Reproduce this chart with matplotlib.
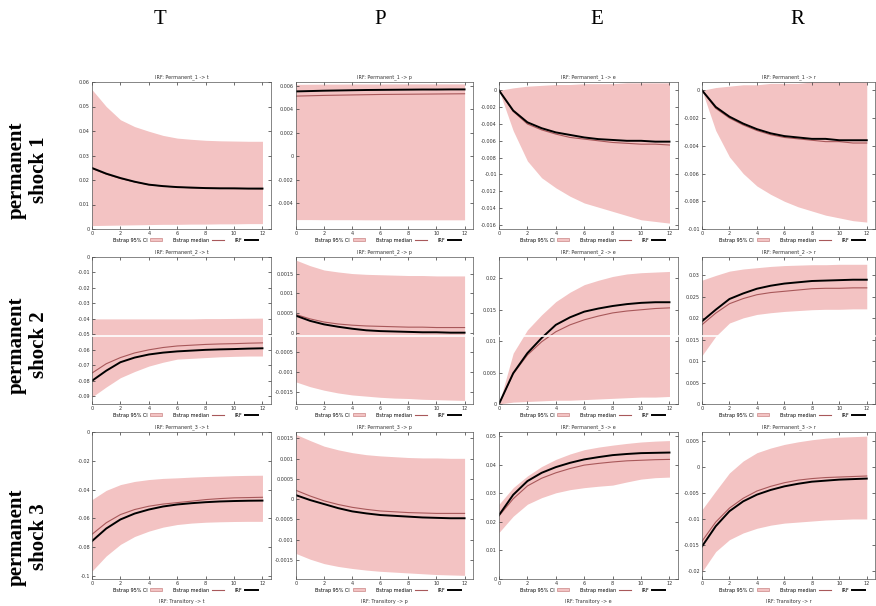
import numpy as np
import matplotlib
matplotlib.use("Agg")
import matplotlib.pyplot as plt
from matplotlib.lines import Line2D
from matplotlib.patches import Patch
from matplotlib.ticker import FuncFormatter

horizons = list(range(13))
columns = ["T", "P", "E", "R"]
variables = ["t", "p", "e", "r"]
shocks = ["Permanent_1", "Permanent_2", "Permanent_3"]
row_labels = ["permanent\nshock 1", "permanent\nshock 2", "permanent\nshock 3"]

# ---- shock 1 ----
s1_t_irf = [0.0249, 0.0226, 0.0208, 0.0193, 0.0181, 0.0175, 0.0171, 0.0169, 0.0167, 0.0166, 0.0166, 0.0165, 0.0165]
s1_t_med = [0.0247, 0.0224, 0.0206, 0.0192, 0.0181, 0.0175, 0.0171, 0.0168, 0.0167, 0.0166, 0.0165, 0.0165, 0.0164]
s1_t_up = [0.0569, 0.0500, 0.0446, 0.0418, 0.0399, 0.0382, 0.0371, 0.0366, 0.0362, 0.0360, 0.0359, 0.0358, 0.0358]
s1_t_lo = [0.0014, 0.0015, 0.0016, 0.0017, 0.0018, 0.0019, 0.0019, 0.0020, 0.0020, 0.0021, 0.0021, 0.0022, 0.0022]

s1_p_irf = [0.00550, 0.00553, 0.00556, 0.00558, 0.00560, 0.00562, 0.00563, 0.00564, 0.00565, 0.00566, 0.00566, 0.00567, 0.00567]
s1_p_med = [0.00510, 0.00513, 0.00516, 0.00518, 0.00520, 0.00522, 0.00524, 0.00525, 0.00526, 0.00527, 0.00528, 0.00529, 0.00530]
s1_p_up = [0.00610, 0.00611, 0.00612, 0.00612, 0.00613, 0.00613, 0.00613, 0.00614, 0.00614, 0.00614, 0.00614, 0.00614, 0.00614]
s1_p_lo = [-0.00540, -0.00540, -0.00541, -0.00541, -0.00541, -0.00542, -0.00542, -0.00542, -0.00542, -0.00542, -0.00542, -0.00542, -0.00542]

s1_e_irf = [0, -0.0024, -0.0038, -0.0045, -0.0050, -0.0053, -0.0056, -0.0058, -0.0059, -0.0060, -0.0060, -0.0061, -0.0061]
s1_e_med = [0, -0.0025, -0.0040, -0.0047, -0.0052, -0.0056, -0.0058, -0.0060, -0.0062, -0.0063, -0.0064, -0.0064, -0.0065]
s1_e_up = [0, 0.0003, 0.0005, 0.0006, 0.0007, 0.0007, 0.0008, 0.0008, 0.0008, 0.0009, 0.0009, 0.0009, 0.0009]
s1_e_lo = [0, -0.0048, -0.0084, -0.0104, -0.0116, -0.0126, -0.0134, -0.0139, -0.0144, -0.0149, -0.0154, -0.0156, -0.0158]

s1_r_irf = [0, -0.0012, -0.0019, -0.0024, -0.0028, -0.0031, -0.0033, -0.0034, -0.0035, -0.0035, -0.0036, -0.0036, -0.0036]
s1_r_med = [0, -0.0013, -0.0020, -0.0025, -0.0029, -0.0032, -0.0034, -0.0035, -0.0036, -0.0037, -0.0037, -0.0038, -0.0038]
s1_r_up = [0, 0.0002, 0.0003, 0.0004, 0.0004, 0.0005, 0.0005, 0.0005, 0.0006, 0.0006, 0.0006, 0.0006, 0.0006]
s1_r_lo = [0, -0.0029, -0.0048, -0.0060, -0.0069, -0.0075, -0.0080, -0.0084, -0.0087, -0.0090, -0.0092, -0.0094, -0.0095]

# ---- shock 2 ----
s2_t_irf = [-0.0800, -0.0735, -0.0680, -0.0650, -0.0630, -0.0618, -0.0610, -0.0605, -0.0600, -0.0597, -0.0595, -0.0592, -0.0590]
s2_t_med = [-0.0750, -0.0690, -0.0650, -0.0620, -0.0600, -0.0585, -0.0575, -0.0570, -0.0565, -0.0562, -0.0560, -0.0557, -0.0555]
s2_t_up = [-0.0400, -0.0400, -0.0400, -0.0400, -0.0400, -0.0400, -0.0400, -0.0400, -0.0398, -0.0398, -0.0397, -0.0396, -0.0395]
s2_t_lo = [-0.0905, -0.0840, -0.0780, -0.0740, -0.0705, -0.0680, -0.0660, -0.0655, -0.0650, -0.0645, -0.0642, -0.0640, -0.0640]

s2_p_irf = [0.00043, 0.00030, 0.00021, 0.00015, 0.00010, 0.00006, 0.00004, 0.00003, 0.00002, 0.00001, 0.00001, 0.00000, 0.00000]
s2_p_med = [0.00046, 0.00035, 0.00027, 0.00022, 0.00019, 0.00017, 0.00016, 0.00015, 0.00014, 0.00014, 0.00013, 0.00013, 0.00013]
s2_p_up = [0.00184, 0.00170, 0.00159, 0.00154, 0.00150, 0.00148, 0.00147, 0.00146, 0.00145, 0.00145, 0.00144, 0.00144, 0.00144]
s2_p_lo = [-0.00125, -0.00137, -0.00146, -0.00153, -0.00158, -0.00161, -0.00164, -0.00166, -0.00167, -0.00169, -0.00170, -0.00171, -0.00172]

s2_e_irf = [0, 0.0049, 0.0081, 0.0105, 0.0126, 0.0138, 0.0147, 0.0152, 0.0156, 0.0159, 0.0161, 0.0162, 0.0162]
s2_e_med = [0, 0.0048, 0.0078, 0.0099, 0.0115, 0.0126, 0.0134, 0.0140, 0.0145, 0.0148, 0.0150, 0.0152, 0.0153]
s2_e_up = [0, 0.0081, 0.0118, 0.0142, 0.0163, 0.0178, 0.0190, 0.0197, 0.0203, 0.0207, 0.0209, 0.0210, 0.0211]
s2_e_lo = [0, 0.0003, 0.0004, 0.0005, 0.0006, 0.0006, 0.0007, 0.0008, 0.0009, 0.0010, 0.0011, 0.0011, 0.0012]

s2_r_irf = [0.0193, 0.0220, 0.0245, 0.0258, 0.0269, 0.0276, 0.0281, 0.0284, 0.0287, 0.0288, 0.0289, 0.0290, 0.0290]
s2_r_med = [0.0185, 0.0212, 0.0234, 0.0246, 0.0255, 0.0260, 0.0263, 0.0266, 0.0269, 0.0270, 0.0270, 0.0271, 0.0271]
s2_r_up = [0.0289, 0.0300, 0.0310, 0.0315, 0.0318, 0.0321, 0.0323, 0.0324, 0.0325, 0.0325, 0.0326, 0.0326, 0.0326]
s2_r_lo = [0.0113, 0.0158, 0.0189, 0.0201, 0.0209, 0.0213, 0.0216, 0.0218, 0.0220, 0.0221, 0.0221, 0.0222, 0.0222]

# ---- shock 3 ----
s3_t_irf = [-0.0757, -0.0670, -0.0607, -0.0566, -0.0538, -0.0517, -0.0503, -0.0494, -0.0487, -0.0482, -0.0479, -0.0477, -0.0476]
s3_t_med = [-0.0710, -0.0630, -0.0573, -0.0538, -0.0515, -0.0500, -0.0490, -0.0480, -0.0469, -0.0462, -0.0457, -0.0455, -0.0453]
s3_t_up = [-0.0469, -0.0405, -0.0365, -0.0343, -0.0330, -0.0322, -0.0318, -0.0313, -0.0309, -0.0306, -0.0303, -0.0301, -0.0300]
s3_t_lo = [-0.0965, -0.0860, -0.0780, -0.0725, -0.0688, -0.0660, -0.0642, -0.0632, -0.0626, -0.0623, -0.0621, -0.0620, -0.0620]

s3_p_irf = [0.00010, -0.00002, -0.00012, -0.00022, -0.00030, -0.00035, -0.00039, -0.00041, -0.00043, -0.00045, -0.00046, -0.00047, -0.00047]
s3_p_med = [0.00022, 0.00008, -0.00004, -0.00013, -0.00020, -0.00025, -0.00029, -0.00031, -0.00033, -0.00034, -0.00035, -0.00035, -0.00035]
s3_p_up = [0.00160, 0.00145, 0.00131, 0.00122, 0.00115, 0.00110, 0.00107, 0.00105, 0.00103, 0.00102, 0.00102, 0.00101, 0.00101]
s3_p_lo = [-0.00134, -0.00148, -0.00159, -0.00166, -0.00171, -0.00175, -0.00178, -0.00180, -0.00182, -0.00184, -0.00186, -0.00187, -0.00188]

s3_e_irf = [0.0224, 0.0295, 0.0343, 0.0372, 0.0392, 0.0407, 0.0419, 0.0427, 0.0434, 0.0438, 0.0441, 0.0442, 0.0443]
s3_e_med = [0.0221, 0.0281, 0.0326, 0.0353, 0.0372, 0.0387, 0.0399, 0.0405, 0.0410, 0.0414, 0.0416, 0.0418, 0.0419]
s3_e_up = [0.0262, 0.0320, 0.0361, 0.0394, 0.0419, 0.0438, 0.0453, 0.0462, 0.0469, 0.0475, 0.0480, 0.0483, 0.0485]
s3_e_lo = [0.0163, 0.0220, 0.0262, 0.0285, 0.0302, 0.0313, 0.0320, 0.0325, 0.0329, 0.0340, 0.0350, 0.0355, 0.0357]

s3_r_irf = [-0.0153, -0.0114, -0.0085, -0.0066, -0.0053, -0.0044, -0.0037, -0.0032, -0.0028, -0.0026, -0.0024, -0.0023, -0.0022]
s3_r_med = [-0.0143, -0.0106, -0.0079, -0.0060, -0.0046, -0.0037, -0.0030, -0.0025, -0.0022, -0.0020, -0.0019, -0.0018, -0.0017]
s3_r_up = [-0.0082, -0.0046, -0.0011, 0.0012, 0.0028, 0.0037, 0.0044, 0.0049, 0.0053, 0.0056, 0.0058, 0.0059, 0.0060]
s3_r_lo = [-0.0202, -0.0163, -0.0140, -0.0127, -0.0118, -0.0112, -0.0108, -0.0106, -0.0104, -0.0102, -0.0101, -0.0100, -0.0100]

series = [
    [(s1_t_irf, s1_t_med, s1_t_up, s1_t_lo), (s1_p_irf, s1_p_med, s1_p_up, s1_p_lo),
     (s1_e_irf, s1_e_med, s1_e_up, s1_e_lo), (s1_r_irf, s1_r_med, s1_r_up, s1_r_lo)],
    [(s2_t_irf, s2_t_med, s2_t_up, s2_t_lo), (s2_p_irf, s2_p_med, s2_p_up, s2_p_lo),
     (s2_e_irf, s2_e_med, s2_e_up, s2_e_lo), (s2_r_irf, s2_r_med, s2_r_up, s2_r_lo)],
    [(s3_t_irf, s3_t_med, s3_t_up, s3_t_lo), (s3_p_irf, s3_p_med, s3_p_up, s3_p_lo),
     (s3_e_irf, s3_e_med, s3_e_up, s3_e_lo), (s3_r_irf, s3_r_med, s3_r_up, s3_r_lo)],
]

# y limits and ticks per panel
ylims = [
    [(0, 0.06), (-0.0062, 0.0063), (-0.0165, 0.001), (-0.01, 0.0006)],
    [(-0.095, 0), (-0.00181, 0.00192), (0, 0.0234), (0, 0.0343)],
    [(-0.102, 0), (-0.00197, 0.00166), (0, 0.0515), (-0.0216, 0.0068)],
]
yticks = [
    [np.arange(0, 0.0601, 0.01), np.arange(-0.004, 0.0061, 0.002), np.arange(-0.016, 0.0001, 0.002), np.arange(-0.01, 0.0001, 0.002)],
    [np.arange(-0.09, 0.0001, 0.01), np.arange(-0.0015, 0.00151, 0.0005), np.arange(0, 0.0201, 0.005), np.arange(0, 0.0301, 0.005)],
    [np.arange(-0.1, 0.0001, 0.02), np.arange(-0.0015, 0.00151, 0.0005), np.arange(0, 0.0501, 0.01), np.arange(-0.02, 0.0051, 0.005)],
]

W, H = 876, 606
fig = plt.figure(figsize=(W / 100, H / 100), dpi=100)

col_px = [(92, 271), (296, 473), (499, 678), (702, 875)]
row_px = [(82, 229), (257, 404), (432, 579)]

band_color = "#f3c3c3"
med_color = "#a8585a"

fmt = FuncFormatter(lambda v, pos: ("%g" % round(v, 6)) if abs(v) > 1e-12 else "0")

for i, (y0, y1) in enumerate(row_px):
    for j, (x0, x1) in enumerate(col_px):
        ax = fig.add_axes([x0 / W, 1 - y1 / H, (x1 - x0) / W, (y1 - y0) / H])
        irf, med, up, lo = series[i][j]
        ax.fill_between(horizons, lo, up, color=band_color, linewidth=0, label="Bstrap 95% CI")
        ax.plot(horizons, med, color=med_color, lw=0.8, label="Bstrap median")
        ax.plot(horizons, irf, color="black", lw=1.4, label="IRF")
        ax.set_xlim(0, 12.6)
        ax.set_ylim(*ylims[i][j])
        ax.set_xticks(range(0, 13, 2))
        ax.set_yticks(yticks[i][j])
        ax.yaxis.set_major_formatter(fmt)
        ax.tick_params(direction="in", length=2, width=0.5, labelsize=3.5, pad=1.5,
                       top=True, right=True, colors="#333333")
        for s in ax.spines.values():
            s.set_linewidth(0.5)
            s.set_color("#555555")
        ax.set_title(f"IRF: {shocks[i]} -> {variables[j]}", fontsize=3.5, pad=3, color="#333333")
        handles = [Patch(facecolor=band_color, edgecolor="#c07070", linewidth=0.4),
                   Line2D([], [], color=med_color, lw=0.8),
                   Line2D([], [], color="black", lw=1.4)]
        ax.legend(handles, ["Bstrap 95% CI", "Bstrap median", "IRF"], ncol=3,
                  loc="upper center", bbox_to_anchor=(0.52, -0.045), frameon=False,
                  fontsize=3.5, markerfirst=False, handlelength=2.5, handleheight=0.6,
                  columnspacing=2.2, handletextpad=0.6, borderaxespad=0)

# column headers
for j, (x0, x1) in enumerate(col_px):
    cx = [160, 380, 597, 797][j]
    fig.text(cx / W, 1 - 20 / H, columns[j], ha="center", va="center",
             fontsize=15, family="Liberation Serif")

# row labels
for i, cy in enumerate([170, 345, 537]):
    fig.text(28 / W, 1 - cy / H, row_labels[i], ha="center", va="center", rotation=90,
             fontsize=15, fontweight="bold", family="Liberation Serif", linespacing=1.2)

# bottom cut-off titles of next block
for j, (x0, x1) in enumerate(col_px):
    fig.text(((x0 + x1) / 2) / W, 1 - 602 / H, f"IRF: Transitory -> {variables[j]}",
             ha="center", va="center", fontsize=3.5, color="#333333")

# horizontal white scan artifact across row 2
fig.add_artist(Line2D([92 / W, 875 / W], [1 - 336 / H, 1 - 336 / H],
                      transform=fig.transFigure, color="white", lw=1.2))

fig.savefig("out.png", dpi=100)
